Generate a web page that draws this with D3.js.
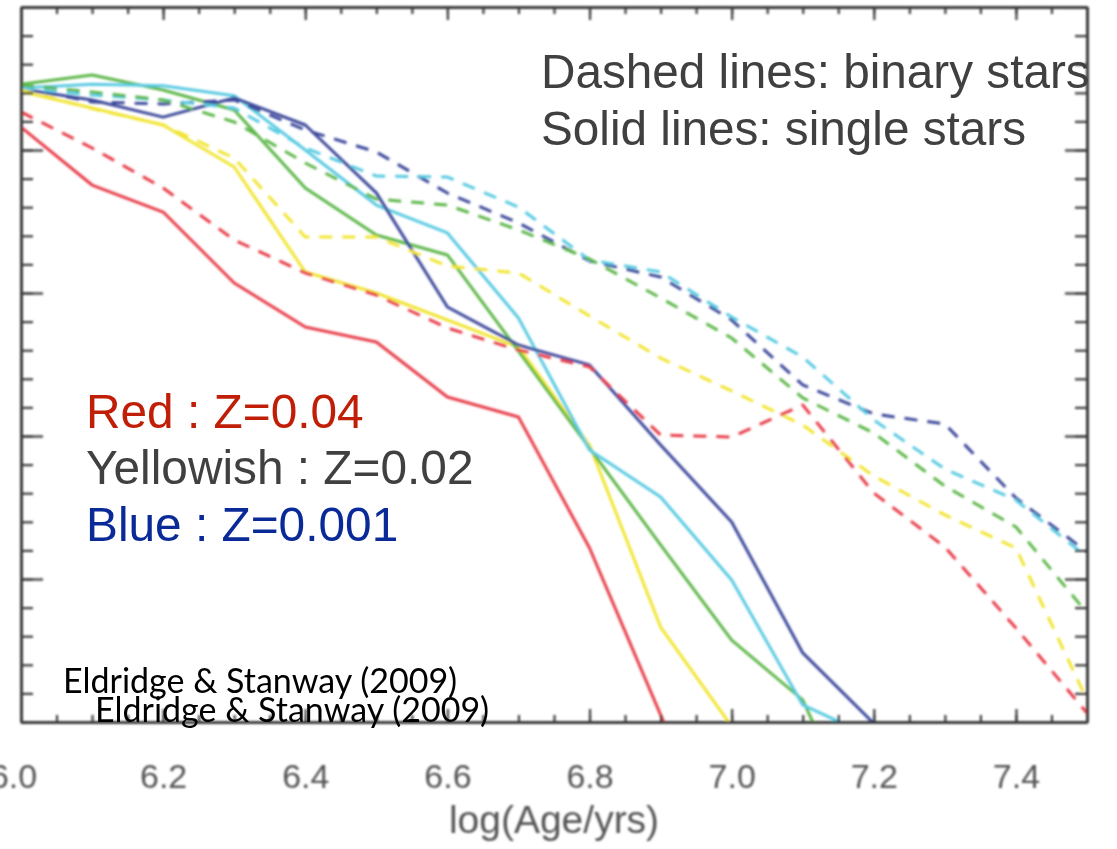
<!DOCTYPE html>
<html>
<head>
<meta charset="utf-8">
<script src="https://cdn.jsdelivr.net/npm/d3@7"></script>
<style>
  html, body { margin: 0; padding: 0; background: #fff; }
  svg { display: block; }
</style>
</head>
<body>
<svg id="chart" width="1117" height="849"></svg>
<script>
// Ages sampled on a 0.1 dex grid, log(Age/yrs)
const ages = [6.0, 6.1, 6.2, 6.3, 6.4, 6.5, 6.6, 6.7, 6.8, 6.9, 7.0, 7.1, 7.2, 7.3, 7.4, 7.5];

// Single-star models (solid). Values below 0 run off the bottom of the frame and are clipped.
const redSingle    = [4.16, 3.755, 3.566, 3.07, 2.762, 2.657, 2.273, 2.133, 1.217, 0.05, -1.1, null, null, null, null, null];
const yellowSingle = [4.41, 4.294, 4.175, 3.881, 3.147, 3.0, 2.811, 2.622, 1.937, 0.664, -0.03, null, null, null, null, null];
const greenSingle  = [4.46, 4.524, 4.42, 4.28, 3.734, 3.406, 3.266, 2.594, 1.916, 1.238, 0.573, 0.154, -0.94, null, null, null];
const cyanSingle   = [4.434, 4.46, 4.45, 4.38, 4.0, 3.615, 3.42, 2.825, 1.902, 1.573, 0.993, 0.119, -0.11, null, null, null];
const blueSingle   = [4.427, 4.35, 4.23, 4.364, 4.175, 3.7, 2.902, 2.636, 2.497, 1.937, 1.399, 0.483, -0.01, null, null, null];

// Binary-star models (dashed)
const redBinary    = [4.266, 4.014, 3.734, 3.371, 3.14, 2.986, 2.755, 2.601, 2.483, 2.007, 1.993, 2.217, 1.601, 1.224, 0.657, 0.063];
const yellowBinary = [4.42, 4.29, 4.175, 3.944, 3.392, 3.392, 3.189, 3.14, 2.839, 2.545, 2.315, 2.077, 1.72, 1.448, 1.217, 0.154];
const greenBinary  = [4.455, 4.406, 4.35, 4.196, 3.909, 3.657, 3.615, 3.441, 3.238, 2.965, 2.685, 2.266, 2.021, 1.65, 1.364, 0.762];
const cyanBinary   = [4.434, 4.385, 4.35, 4.294, 4.014, 3.818, 3.811, 3.601, 3.231, 3.147, 2.832, 2.552, 2.112, 1.769, 1.552, 1.154];
const blueBinary   = [4.434, 4.336, 4.322, 4.35, 4.14, 3.986, 3.699, 3.49, 3.224, 3.112, 2.811, 2.357, 2.154, 2.084, 1.566, 1.189];

// Axis ticks
const xTickLabels = ["6.0", "6.2", "6.4", "6.6", "6.8", "7.0", "7.2", "7.4"];
const xMajorTicks = [6.0, 6.2, 6.4, 6.6, 6.8, 7.0, 7.2, 7.4];
const yMajorTicks = [0, 1, 2, 3, 4, 5];

const colors = {
  red: "#e83f4c",
  yellow: "#f1e534",
  green: "#5fb84b",
  cyan: "#5bcbe2",
  blue: "#3f4b9c"
};

const series = [
  { name: "redSingle",    values: redSingle,    color: colors.red,    dashed: false },
  { name: "yellowSingle", values: yellowSingle, color: colors.yellow, dashed: false },
  { name: "greenSingle",  values: greenSingle,  color: colors.green,  dashed: false },
  { name: "cyanSingle",   values: cyanSingle,   color: colors.cyan,   dashed: false },
  { name: "blueSingle",   values: blueSingle,   color: colors.blue,   dashed: false },
  { name: "blueBinary",   values: blueBinary,   color: colors.blue,   dashed: true },
  { name: "cyanBinary",   values: cyanBinary,   color: colors.cyan,   dashed: true },
  { name: "greenBinary",  values: greenBinary,  color: colors.green,  dashed: true },
  { name: "yellowBinary", values: yellowBinary, color: colors.yellow, dashed: true },
  { name: "redBinary",    values: redBinary,    color: colors.red,    dashed: true }
];

const svg = d3.select("#chart");
const margin = { left: 21, right: 1087, top: 7, bottom: 722 };

const x = d3.scaleLinear().domain([6.0, 7.5]).range([margin.left, margin.right]);
const y = d3.scaleLinear().domain([0, 5]).range([margin.bottom, margin.top]);

const defs = svg.append("defs");
defs.append("filter").attr("id", "soft")
  .attr("x", "-5%").attr("y", "-5%").attr("width", "110%").attr("height", "110%")
  .append("feGaussianBlur").attr("stdDeviation", 0.9);
defs.append("filter").attr("id", "softer")
  .attr("x", "-10%").attr("y", "-10%").attr("width", "120%").attr("height", "120%")
  .append("feGaussianBlur").attr("stdDeviation", 1.1);
defs.append("clipPath").attr("id", "plotClip")
  .append("rect")
  .attr("x", margin.left).attr("y", margin.top)
  .attr("width", margin.right - margin.left)
  .attr("height", margin.bottom - margin.top);

const plot = svg.append("g").attr("filter", "url(#soft)");

// Model curves
const line = d3.line()
  .defined(d => d.v !== null)
  .x(d => x(d.age))
  .y(d => y(d.v));

const curves = plot.append("g").attr("clip-path", "url(#plotClip)");
series.forEach(s => {
  const pts = ages.map((a, i) => ({ age: a, v: s.values[i] }));
  curves.append("path")
    .datum(pts)
    .attr("d", line)
    .attr("fill", "none")
    .attr("stroke", s.color)
    .attr("stroke-width", 3)
    .attr("stroke-linejoin", "round")
    .attr("stroke-dasharray", s.dashed ? "13,10" : null);
});

// Frame with inward ticks on all four sides
const xMinorTicks = d3.range(0, 31).map(i => 6.0 + i * 0.05);
const yMinorTicks = d3.range(0, 26).map(i => i * 0.2);
const axisColor = "#3a3a3a";

function styleAxis(g) {
  g.selectAll("path.domain").attr("stroke", axisColor).attr("stroke-width", 3);
  g.selectAll(".tick line").attr("stroke", axisColor).attr("stroke-width", 2.2);
  g.selectAll(".tick text").remove();
}

const frame = plot.append("g");
[[xMinorTicks, 7], [xMajorTicks, 13]].forEach(([vals, len]) => {
  frame.append("g").attr("transform", `translate(0,${margin.bottom})`)
    .call(d3.axisBottom(x).tickValues(vals).tickSize(-len).tickSizeOuter(0).tickFormat(""))
    .call(styleAxis);
  frame.append("g").attr("transform", `translate(0,${margin.top})`)
    .call(d3.axisTop(x).tickValues(vals).tickSize(-len).tickSizeOuter(0).tickFormat(""))
    .call(styleAxis);
});
[[yMinorTicks, 12], [yMajorTicks, 22]].forEach(([vals, len]) => {
  frame.append("g").attr("transform", `translate(${margin.left},0)`)
    .call(d3.axisLeft(y).tickValues(vals).tickSize(-len).tickSizeOuter(0).tickFormat(""))
    .call(styleAxis);
  frame.append("g").attr("transform", `translate(${margin.right},0)`)
    .call(d3.axisRight(y).tickValues(vals).tickSize(-len).tickSizeOuter(0).tickFormat(""))
    .call(styleAxis);
});

// Tick labels and axis title
const labelsG = svg.append("g").attr("filter", "url(#softer)");
const xLabelAxis = labelsG.append("g")
  .attr("transform", `translate(0,${margin.bottom})`)
  .call(d3.axisBottom(x).tickValues(xMajorTicks).tickSize(0).tickPadding(42)
    .tickFormat((d, i) => xTickLabels[i]));
xLabelAxis.select("path.domain").remove();
xLabelAxis.selectAll("text")
  .attr("fill", "#555")
  .attr("dx", (d, i) => i === 0 ? -8 : 0)
  .style("font-family", "'Liberation Sans', Arial, sans-serif")
  .style("font-size", "34px");

labelsG.append("text")
  .attr("x", x(6.75)).attr("y", 833)
  .attr("text-anchor", "middle")
  .attr("fill", "#555")
  .style("font-family", "'Liberation Sans', Arial, sans-serif")
  .style("font-size", "39px")
  .text("log(Age/yrs)");

// Annotations
const ann = svg.append("g").style("font-family", "'Liberation Sans', Arial, sans-serif");
ann.append("text").attr("x", 541).attr("y", 88).attr("fill", "#404040")
  .style("font-size", "47.7px").text("Dashed lines: binary stars");
ann.append("text").attr("x", 541).attr("y", 145).attr("fill", "#404040")
  .style("font-size", "47.7px").text("Solid lines: single stars");

ann.append("text").attr("x", 86).attr("y", 428).attr("fill", "#c01e06")
  .style("font-size", "47.8px").text("Red : Z=0.04");
ann.append("text").attr("x", 86).attr("y", 484).attr("fill", "#404040")
  .style("font-size", "47.8px").text("Yellowish : Z=0.02");
ann.append("text").attr("x", 86).attr("y", 541).attr("fill", "#0a2a98")
  .style("font-size", "47.8px").text("Blue : Z=0.001");

const cite = svg.append("g").style("font-family", "Lato, 'Open Sans', sans-serif").attr("fill", "#000");
cite.append("text").attr("x", 63).attr("y", 693).style("font-size", "34px").text("Eldridge & Stanway (2009)");
cite.append("text").attr("x", 95).attr("y", 722).style("font-size", "34px").text("Eldridge & Stanway (2009)");
</script>
</body>
</html>
